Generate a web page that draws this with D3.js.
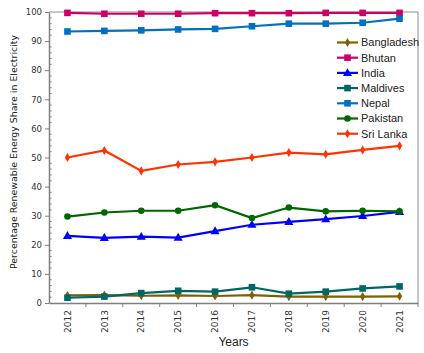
<!DOCTYPE html>
<html><head><meta charset="utf-8">
<script src="https://cdn.jsdelivr.net/npm/d3@7"></script>
<style>body{margin:0;background:#fff}svg{display:block}</style>
</head><body>
<svg id="c" width="424" height="353"></svg>
<script>
const years = ["2012","2013","2014","2015","2016","2017","2018","2019","2020","2021"];
const bangladesh = [2.6, 2.7, 2.5, 2.6, 2.4, 2.7, 2.2, 2.2, 2.2, 2.3];
const bhutan = [99.7, 99.4, 99.4, 99.4, 99.6, 99.6, 99.6, 99.7, 99.7, 99.7];
const india = [23.1, 22.4, 22.8, 22.5, 24.7, 26.9, 27.9, 28.8, 29.9, 31.3];
const maldives = [1.8, 2.2, 3.4, 4.2, 3.9, 5.4, 3.2, 3.9, 5.0, 5.7];
const nepal = [93.3, 93.5, 93.7, 94.0, 94.2, 95.1, 96.0, 96.0, 96.3, 97.7];
const pakistan = [29.7, 31.1, 31.7, 31.7, 33.6, 29.2, 32.8, 31.5, 31.7, 31.5];
const sriLanka = [50.0, 52.4, 45.4, 47.6, 48.5, 50.0, 51.7, 51.1, 52.6, 54.0];
const yTicks = [0,10,20,30,40,50,60,70,80,90,100];

const series = [
  {name:"Bangladesh", values:bangladesh, color:"#7f6000", marker:"diamond"},
  {name:"Bhutan", values:bhutan, color:"#cc0066", marker:"square"},
  {name:"India", values:india, color:"#0000ff", marker:"triangle"},
  {name:"Maldives", values:maldives, color:"#006666", marker:"square"},
  {name:"Nepal", values:nepal, color:"#0070c0", marker:"square"},
  {name:"Pakistan", values:pakistan, color:"#006600", marker:"circle"},
  {name:"Sri Lanka", values:sriLanka, color:"#ff3300", marker:"diamond"}
];

const svg = d3.select("#c");
const m = {l:49, r:418, t:12, b:303};
const x = d3.scaleBand().domain(years).range([m.l, m.r]);
const y = d3.scaleLinear().domain([0,100]).range([m.b, m.t]);
const cx = d => x(d) + x.bandwidth()/2;

// frame top & right
svg.append("line").attr("x1",m.l).attr("x2",m.r).attr("y1",m.t).attr("y2",m.t).attr("stroke","#8c8c8c");
svg.append("line").attr("x1",m.r).attr("x2",m.r).attr("y1",m.t).attr("y2",m.b).attr("stroke","#8c8c8c");

// y axis
const ya = svg.append("g").attr("transform",`translate(${m.l},0)`)
  .call(d3.axisLeft(y).tickValues(yTicks).tickSize(4).tickPadding(3).tickSizeOuter(0));
ya.select(".domain").attr("stroke","#7f7f7f").attr("stroke-width",1.5);
ya.selectAll(".tick line").attr("stroke","#7f7f7f");
ya.selectAll("text").attr("font-family","DejaVu Sans").attr("font-size","8.5px").attr("fill","#333");
// minor ticks
const minor = d3.range(0,101,2).filter(v=>v%10!==0);
svg.append("g").selectAll("line").data(minor).join("line")
  .attr("x1",m.l).attr("x2",m.l+2.5).attr("y1",d=>y(d)).attr("y2",d=>y(d)).attr("stroke","#7f7f7f");

// x axis
const xa = svg.append("g").attr("transform",`translate(0,${m.b})`)
  .call(d3.axisBottom(x).tickSize(0).tickPadding(5));
xa.select(".domain").attr("stroke","#7f7f7f").attr("stroke-width",1.5);
xa.selectAll("text").attr("font-family","DejaVu Sans").attr("font-size","9px").attr("fill","#333")
  .attr("transform","rotate(-90)").attr("text-anchor","end").attr("dy","0.35em").attr("x",-7).attr("y",0);
// band boundary ticks
const bounds = years.slice(1).map(d=>x(d)).concat([m.r]);
svg.append("g").selectAll("line").data(bounds).join("line")
  .attr("x1",d=>d).attr("x2",d=>d).attr("y1",m.b).attr("y2",m.b+4).attr("stroke","#7f7f7f");

// labels
svg.append("text").attr("x",(m.l+m.r)/2).attr("y",346).attr("text-anchor","middle")
  .attr("font-family","Liberation Sans").attr("font-size","12px").attr("fill","#222").text("Years");
svg.append("text").attr("transform",`translate(17,152) rotate(-90)`).attr("text-anchor","middle")
  .attr("font-family","DejaVu Sans").attr("font-size","9.4px").attr("fill","#222")
  .text("Percentage Renewable Energy Share in Electricity");

function marker(g, type, color, px, py){
  if(type==="square") g.append("rect").attr("x",px-3.3).attr("y",py-3.3).attr("width",6.6).attr("height",6.6).attr("fill",color);
  else if(type==="circle") g.append("circle").attr("cx",px).attr("cy",py).attr("r",3.3).attr("fill",color);
  else if(type==="triangle") g.append("path").attr("d",d3.symbol(d3.symbolTriangle,36)()).attr("transform",`translate(${px},${py+0.5})`).attr("fill",color);
  else g.append("path").attr("d",d3.symbol(d3.symbolDiamond,24)()).attr("transform",`translate(${px},${py})`).attr("fill",color);
}

const line = d3.line().x((d,i)=>cx(years[i])).y(d=>y(d));
series.forEach(s=>{
  const g = svg.append("g");
  g.append("path").attr("d",line(s.values)).attr("fill","none").attr("stroke",s.color).attr("stroke-width",2.2);
  s.values.forEach((v,i)=>marker(g, s.marker, s.color, cx(years[i]), y(v)));
});

// legend
const lg = svg.append("g");
series.forEach((s,i)=>{
  const ly = 42.5 + i*15.2;
  lg.append("line").attr("x1",337).attr("x2",358).attr("y1",ly).attr("y2",ly).attr("stroke",s.color).attr("stroke-width",2.2);
  marker(lg, s.marker, s.color, 347.5, ly);
  lg.append("text").attr("x",361).attr("y",ly).attr("dy","0.35em").attr("font-family","Liberation Sans")
    .attr("font-size","11px").attr("fill","#222").text(s.name);
});
</script>
</body></html>
